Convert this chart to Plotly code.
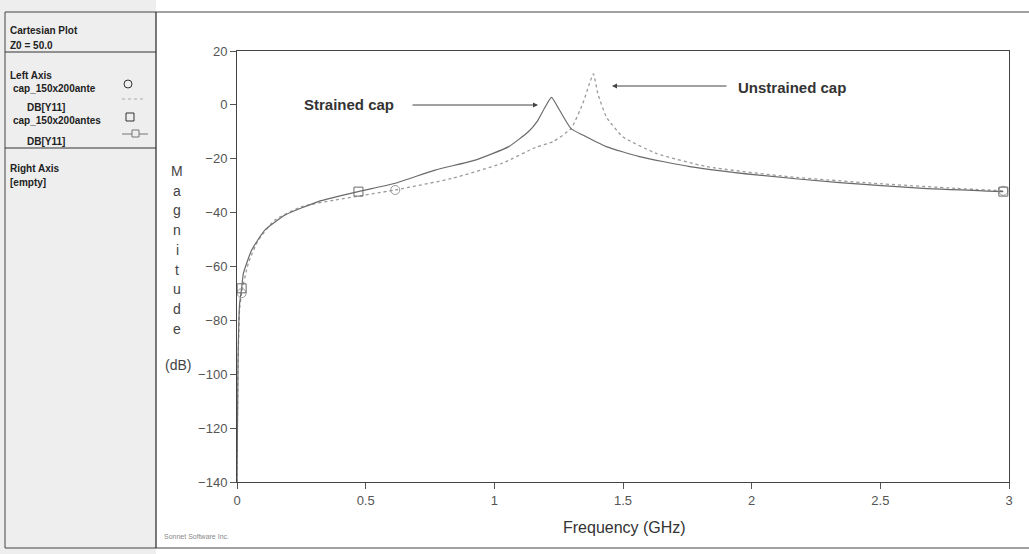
import plotly.graph_objects as go

# Frequency sweep (GHz) and |Y11| in dB for the two capacitor layouts
freq_strained = [0.0, 0.004, 0.010, 0.018, 0.025, 0.057, 0.109, 0.187, 0.316, 0.472,
                 0.615, 0.770, 0.926, 1.056, 1.133, 1.166, 1.198, 1.222, 1.253, 1.298,
                 1.344, 1.435, 1.564, 1.759, 2.018, 2.342, 2.667, 2.978]
db_strained = [-140, -95, -74, -68.1, -62.5, -53.9, -46.4, -40.9, -35.9, -32.2,
               -29.1, -24.2, -20.5, -15.5, -9.9, -6.2, -0.7, 2.8, -1.9, -8.8,
               -11.2, -15.5, -19.2, -22.9, -26.0, -28.9, -31.0, -32.2]

freq_unstrained = [0.0, 0.004, 0.010, 0.018, 0.044, 0.083, 0.148, 0.252, 0.381, 0.615,
                   0.835, 1.030, 1.160, 1.227, 1.298, 1.344, 1.370, 1.385, 1.402, 1.435,
                   1.499, 1.629, 1.824, 2.148, 2.472, 2.796, 2.978]
db_unstrained = [-140, -97, -76, -69.9, -58.8, -50.2, -42.7, -37.8, -35.3, -31.6,
                 -27.3, -21.7, -15.8, -13.7, -8.8, 0.6, 8.0, 11.5, 4.3, -4.4,
                 -11.8, -18.0, -22.9, -26.7, -29.1, -31.0, -31.9]

# indices of the sample points that carry a symbol
marks_strained = [3, 9, 27]
marks_unstrained = [3, 9, 26]

x_ticks = [0, 0.5, 1, 1.5, 2, 2.5, 3]
x_ticktext = ["0", "0.5", "1", "1.5", "2", "2.5", "3"]
y_ticks = [-140, -120, -100, -80, -60, -40, -20, 0, 20]

W, H = 1029, 554
L, R, T, B = 237, 1009, 51, 482


def px(x, y):
    """Pixel position -> paper coordinates."""
    return (x - L) / (R - L), (B - y) / (B - T)


FONT = "Liberation Sans, Arial, sans-serif"
SOLID = "#6a6a6a"
DOTTED = "#9a9a9a"

fig = go.Figure()

fig.add_trace(go.Scatter(x=freq_unstrained, y=db_unstrained, mode="lines",
                         line=dict(color=DOTTED, width=1.3, dash="dot", shape="spline", smoothing=0.5),
                         showlegend=False, hoverinfo="skip"))
fig.add_trace(go.Scatter(x=freq_strained, y=db_strained, mode="lines",
                         line=dict(color=SOLID, width=1.2, shape="spline", smoothing=0.5),
                         showlegend=False, hoverinfo="skip"))
fig.add_trace(go.Scatter(x=[freq_unstrained[i] for i in marks_unstrained],
                         y=[db_unstrained[i] for i in marks_unstrained], mode="markers",
                         marker=dict(symbol="circle-open", size=9, color=DOTTED,
                                     line=dict(width=1)),
                         showlegend=False, hoverinfo="skip", cliponaxis=False))
fig.add_trace(go.Scatter(x=[freq_strained[i] for i in marks_strained],
                         y=[db_strained[i] for i in marks_strained], mode="markers",
                         marker=dict(symbol="square-open", size=9, color=SOLID,
                                     line=dict(width=1)),
                         showlegend=False, hoverinfo="skip", cliponaxis=False))

shapes = []
annotations = []


def pline(x0, y0, x1, y1, color="#333", width=1, dash="solid"):
    a0, b0 = px(x0, y0)
    a1, b1 = px(x1, y1)
    shapes.append(dict(type="line", xref="paper", yref="paper", x0=a0, y0=b0, x1=a1, y1=b1,
                       line=dict(color=color, width=width, dash=dash)))


def ptext(x, y, text, size=10, color="#222", bold=False, anchor="left"):
    a, b = px(x, y)
    if bold:
        text = "<b>" + text + "</b>"
    annotations.append(dict(xref="paper", yref="paper", x=a, y=b, text=text, showarrow=False,
                            xanchor=anchor, yanchor="middle",
                            font=dict(family=FONT, size=size, color=color)))


# side panel background and frame
a0, b0 = px(0, 0)
a1, b1 = px(156, H)
shapes.append(dict(type="rect", xref="paper", yref="paper", x0=a0, y0=b0, x1=a1, y1=b1,
                   fillcolor="#eeeeee", line=dict(width=0), layer="below"))
pline(5, 12, W, 12, "#444", 1)
pline(5, 548, W, 548, "#444", 1.2)
pline(5, 12, 5, 548, "#444", 1)
pline(156, 12, 156, 548, "#333", 1.3)
pline(5, 52, 156, 52, "#333", 1)
pline(5, 148, 156, 148, "#333", 1)

# side panel texts
ptext(8, 31, "Cartesian Plot", 10, bold=True)
ptext(8, 46, "Z0 = 50.0", 10, bold=True)
ptext(8, 75, "Left Axis", 10, bold=True)
ptext(11, 88, "cap_150x200ante", 10, bold=True)
ptext(25, 107, "DB[Y11]", 10, bold=True)
ptext(11, 120, "cap_150x200antes", 10, bold=True)
ptext(25, 141, "DB[Y11]", 10, bold=True)
ptext(8, 168, "Right Axis", 10, bold=True)
ptext(8, 182, "[empty]", 10, bold=True)

# side panel symbols
c0, d0 = px(124, 80)
c1, d1 = px(132, 88)
shapes.append(dict(type="circle", xref="paper", yref="paper", x0=c0, y0=d0, x1=c1, y1=d1,
                   line=dict(color="#333", width=1)))
pline(122, 99, 146, 99, "#aaa", 1, "dot")
c0, d0 = px(126, 113)
c1, d1 = px(134, 121)
shapes.append(dict(type="rect", xref="paper", yref="paper", x0=c0, y0=d0, x1=c1, y1=d1,
                   line=dict(color="#333", width=1)))
pline(122, 134, 148, 134, "#777", 1)
c0, d0 = px(132, 130)
c1, d1 = px(139, 137)
shapes.append(dict(type="rect", xref="paper", yref="paper", x0=c0, y0=d0, x1=c1, y1=d1,
                   fillcolor="#eeeeee", line=dict(color="#777", width=1)))

# vertical axis caption, one letter per row
for i, ch in enumerate("Magnitude"):
    ptext(177, 171 + i * 19.7, ch, 14, color="#444", anchor="center")
ptext(178, 365, "(dB)", 14, color="#444", anchor="center")

# horizontal axis caption and credit line
ptext(624, 527, "Frequency (GHz)", 16, color="#333", anchor="center")
ptext(162, 536, "Sonnet Software Inc.", 7, color="#888")

# callouts
ptext(302, 104, "Strained cap", 15, color="#333", bold=True)
ptext(736, 87, "Unstrained cap", 15, color="#333", bold=True)
annotations.append(dict(xref="x", yref="y", x=(538 - L) / (R - L) * 3, y=20 - (105 - T) / (B - T) * 160,
                        ax=-127, ay=0, axref="pixel", ayref="pixel", text="", showarrow=True,
                        arrowhead=2, arrowsize=1, arrowwidth=1, arrowcolor="#444"))
annotations.append(dict(xref="x", yref="y", x=(612 - L) / (R - L) * 3, y=20 - (86 - T) / (B - T) * 160,
                        ax=116, ay=0, axref="pixel", ayref="pixel", text="", showarrow=True,
                        arrowhead=2, arrowsize=1, arrowwidth=1, arrowcolor="#444"))

axis_common = dict(showgrid=False, zeroline=False, showline=True, linecolor="#444", linewidth=1,
                   mirror=True, ticks="outside", ticklen=6, tickcolor="#555", tickwidth=1,
                   tickfont=dict(family=FONT, size=13, color="#555"))

fig.update_layout(
    width=W, height=H,
    margin=dict(l=L, r=W - R, t=T, b=H - B, autoexpand=False),
    paper_bgcolor="white", plot_bgcolor="white",
    xaxis=dict(range=[0, 3], tickvals=x_ticks, ticktext=x_ticktext, **axis_common),
    yaxis=dict(range=[-140, 20], tickvals=y_ticks, **axis_common),
    shapes=shapes, annotations=annotations, showlegend=False,
)

fig.write_html("out.html", config={"displayModeBar": False})
